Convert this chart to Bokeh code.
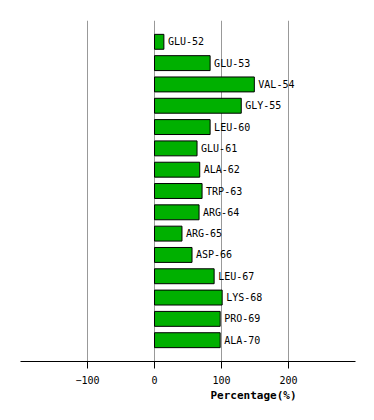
from bokeh.plotting import figure
from bokeh.models import ColumnDataSource, Range1d, FixedTicker, Title
from bokeh.core.properties import value
from bokeh.embed import file_html
from bokeh.resources import INLINE

residues = ["GLU-52", "GLU-53", "VAL-54", "GLY-55", "LEU-60", "GLU-61", "ALA-62",
            "TRP-63", "ARG-64", "ARG-65", "ASP-66", "LEU-67", "LYS-68", "PRO-69", "ALA-70"]
percentages = [14, 83, 149, 129.5, 83, 63.5, 67.5, 71, 66.5, 41, 56, 89, 101, 98, 98]
x_ticks = [-100, 0, 100, 200]
x_label = "Percentage(%)"

positions = list(range(1, len(residues) + 1))
source = ColumnDataSource(dict(y=positions, x=percentages, name=residues))

p = figure(width=370, height=401, output_backend="svg", toolbar_location=None,
           x_range=Range1d(-200, 300), y_range=Range1d(16, 0),
           min_border_left=20, min_border_right=15, min_border_top=20, min_border_bottom=30)
p.outline_line_color = None
p.background_fill_color = "white"
p.border_fill_color = "white"

p.hbar(y="y", left=0, right="x", height=0.7, source=source,
       fill_color="#00b000", line_color="black", line_width=1)
p.text(x="x", y="y", text="name", source=source, x_offset=4,
       text_font=value("DejaVu Sans Mono"), text_font_size="10px",
       text_baseline="middle", text_align="left", text_color="black")

p.yaxis.visible = False
p.ygrid.visible = False
p.xaxis.ticker = FixedTicker(ticks=x_ticks)
p.xgrid.ticker = FixedTicker(ticks=x_ticks)
p.xgrid.grid_line_color = "#999999"
p.xgrid.grid_line_width = 1
p.xaxis.minor_tick_line_color = None
p.xaxis.major_tick_out = 7
p.xaxis.major_tick_in = 0
p.xaxis.major_label_standoff = 7
p.xaxis.axis_line_color = "black"
p.xaxis.major_tick_line_color = "black"
p.xaxis.major_label_text_font = "DejaVu Sans Mono"
p.xaxis.major_label_text_font_size = "10px"
p.xaxis.major_label_text_color = "black"

t = Title(text=x_label, align="left", offset=190, text_font="DejaVu Sans Mono",
          text_font_size="11px", text_font_style="bold", text_color="black",
          standoff=0)
p.add_layout(t, "below")

open("out.html", "w").write(file_html(p, INLINE))
